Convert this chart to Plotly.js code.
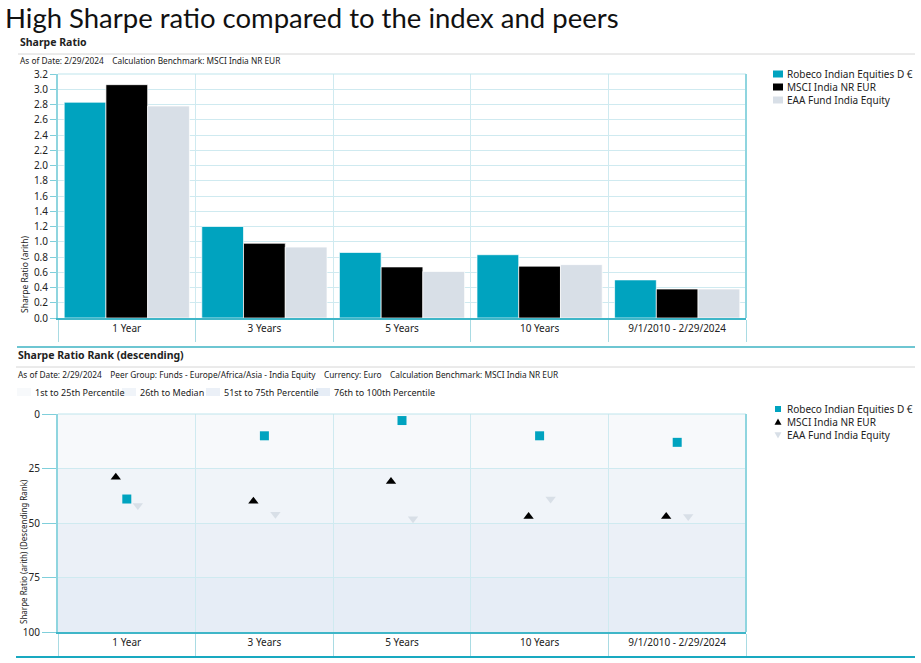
<!DOCTYPE html>
<html>
<head>
<meta charset="utf-8">
<script src="https://cdn.plot.ly/plotly-3.0.1.min.js"></script>
<style>
  html, body { margin: 0; padding: 0; background: #fff; }
  #chart { width: 921px; height: 663px; }
</style>
</head>
<body>
<div id="chart"></div>
<script>
// periods shown on both charts
const periods = ['1 Year', '3 Years', '5 Years', '10 Years', '9/1/2010 - 2/29/2024'];

const seriesNames = ['Robeco Indian Equities D €', 'MSCI India NR EUR', 'EAA Fund India Equity'];

// Sharpe ratio (arith)
const fundSharpe = [2.83, 1.20, 0.86, 0.83, 0.50];
const indexSharpe = [3.06, 0.98, 0.67, 0.68, 0.38];
const peerSharpe = [2.78, 0.93, 0.61, 0.70, 0.38];

// Sharpe ratio rank (descending, percentile)
const fundRank = [39, 10, 3, 10, 13];
const indexRank = [29, 40, 31, 47, 47];
const peerRank = [42, 46, 48, 39, 47];

// percentile bands
const bandLabels = ['1st to 25th Percentile', '26th to Median', '51st to 75th Percentile', '76th to 100th Percentile'];
const bandEdges = [0, 25, 50, 75, 100];
const bandColors = ['#f7f9fb', '#f0f4f9', '#ebf0f7', '#e6edf6'];

const rankTicks = [0, 25, 50, 75, 100];

const TEAL = '#00a3bf';
const BLACK = '#000000';
const GREY = '#d8dfe7';
const GRID = '#cfeaf0';
const FONT = 'Noto Sans, Open Sans, sans-serif';

const W = 921, H = 663;
const px = x => x / W;
const py = y => 1 - y / H;

const barLine = {color: 'rgba(255,255,255,0.7)', width: 1};

const traces = [
  {type: 'bar', x: periods, y: fundSharpe, name: seriesNames[0], marker: {color: TEAL, line: barLine}, xaxis: 'x', yaxis: 'y'},
  {type: 'bar', x: periods, y: indexSharpe, name: seriesNames[1], marker: {color: BLACK, line: barLine}, xaxis: 'x', yaxis: 'y'},
  {type: 'bar', x: periods, y: peerSharpe, name: seriesNames[2], marker: {color: GREY, line: barLine}, xaxis: 'x', yaxis: 'y'},
  // rank markers: order left-to-right is index, fund, peer
  {type: 'scatter', mode: 'markers', x: periods, y: indexRank, name: seriesNames[1],
   marker: {symbol: 'triangle-up', size: 9, color: BLACK}, xaxis: 'x2', yaxis: 'y2'},
  {type: 'scatter', mode: 'markers', x: periods, y: fundRank, name: seriesNames[0],
   marker: {symbol: 'square', size: 9, color: TEAL}, xaxis: 'x2', yaxis: 'y2'},
  {type: 'scatter', mode: 'markers', x: periods, y: peerRank, name: seriesNames[2],
   marker: {symbol: 'triangle-down', size: 9, color: GREY}, xaxis: 'x2', yaxis: 'y2'}
];

const shapes = [];
const annotations = [];

function hline(y, x0, x1, color, width) {
  shapes.push({type: 'line', xref: 'paper', yref: 'paper', x0: px(x0), x1: px(x1), y0: py(y), y1: py(y),
    line: {color: color, width: width}});
}
function rect(x0, y0, x1, y1, color) {
  shapes.push({type: 'rect', xref: 'paper', yref: 'paper', x0: px(x0), x1: px(x1),
    y0: py(y1), y1: py(y0), fillcolor: color, line: {width: 0}});
}
function tri(cx, cy, r, up, color) {
  const a = up ? -1 : 1;
  const p = `M${px(cx - r)},${py(cy - a * r * 0.8)} L${px(cx + r)},${py(cy - a * r * 0.8)} L${px(cx)},${py(cy + a * r)} Z`;
  shapes.push({type: 'path', xref: 'paper', yref: 'paper', path: p, fillcolor: color, line: {width: 0}});
}
function text(str, x, y, size, opts) {
  annotations.push(Object.assign({text: str, xref: 'paper', yref: 'paper', x: px(x), y: py(y),
    xanchor: 'left', yanchor: 'middle', showarrow: false,
    font: {family: FONT, size: size, color: '#222'}}, opts || {}));
}

// headings
text('High Sharpe ratio compared to the index and peers', 4, 0, 27.5,
  {yanchor: 'top', borderpad: 0, font: {family: 'Lato, sans-serif', size: 27.5, color: '#111'}});
text('<b>Sharpe Ratio</b>', 18, 42, 10.5);
hline(54, 18, 915, '#d6d6d6', 1);
text('As of Date: 2/29/2024&nbsp;&nbsp;&nbsp;&nbsp;Calculation Benchmark: MSCI India NR EUR', 18, 60, 8.3);
hline(347, 17, 915, '#6ec6d2', 2);
text('<b>Sharpe Ratio Rank (descending)</b>', 16, 355, 10.5);
hline(367, 16, 915, '#d6d6d6', 1);
text('As of Date: 2/29/2024&nbsp;&nbsp;&nbsp;&nbsp;Peer Group: Funds - Europe/Africa/Asia - India Equity&nbsp;&nbsp;&nbsp;&nbsp;Currency: Euro&nbsp;&nbsp;&nbsp;&nbsp;Calculation Benchmark: MSCI India NR EUR', 16, 374, 8.3);
hline(657, 16, 915, '#19a9c0', 2);

// y axis titles
text('Sharpe Ratio (arith)', 24, 275, 8.5, {xanchor: 'center', textangle: -90});
text('Sharpe Ratio (arith) (Descending Rank)', 23, 552, 8, {xanchor: 'center', textangle: -90});

// percentile key
const keyX = [17, 122, 206, 316];
bandLabels.forEach((lab, i) => {
  rect(keyX[i], 388, keyX[i] + 14, 396, bandColors[i]);
  text(lab, keyX[i] + 16, 392, 9);
});

// legends
const swatchColors = [TEAL, BLACK, GREY];
seriesNames.forEach((name, i) => {
  const y = 74 + i * 13;
  rect(773, y - 3.5, 783, y + 3.5, swatchColors[i]);
  text(name, 785, y, 10);
});
seriesNames.forEach((name, i) => {
  const y = 409 + i * 13;
  if (i === 0) rect(775, y - 3, 781, y + 3, TEAL);
  else tri(778, y, 3.5, i === 1, swatchColors[i]);
  text(name, 785, y, 10);
});

// percentile bands behind rank chart
bandColors.forEach((c, i) => {
  shapes.push({type: 'rect', xref: 'x2 domain', yref: 'y2', x0: 0, x1: 1,
    y0: bandEdges[i], y1: bandEdges[i + 1], fillcolor: c, line: {width: 0}, layer: 'below'});
});

// top and right borders of the plot areas
[['x domain', 'y domain'], ['x2 domain', 'y2 domain']].forEach(([xr, yr]) => {
  shapes.push({type: 'line', xref: xr, yref: yr, x0: 0, x1: 1, y0: 1, y1: 1, line: {color: '#bfe5ec', width: 1}});
  shapes.push({type: 'line', xref: xr, yref: yr, x0: 1, x1: 1, y0: 0, y1: 1, line: {color: '#8fd5df', width: 2}});
});

const catAxis = {
  type: 'category', tickson: 'boundaries', ticks: 'outside', ticklen: 22, tickcolor: '#a9dbe3',
  showgrid: true, gridcolor: GRID, showline: true, linecolor: '#3fb6c8', linewidth: 2,
  tickfont: {family: FONT, size: 10, color: '#222'}, fixedrange: true
};

const layout = {
  width: W, height: H,
  margin: {l: 0, r: 0, t: 0, b: 0},
  paper_bgcolor: '#ffffff', plot_bgcolor: 'rgba(0,0,0,0)',
  font: {family: FONT, color: '#222'},
  showlegend: false,
  barmode: 'group', bargap: 0.09, bargroupgap: 0,
  scattermode: 'group', scattergap: 0.76,
  xaxis: Object.assign({}, catAxis, {domain: [px(58), px(746)], anchor: 'y'}),
  yaxis: {
    domain: [py(318), py(74)], anchor: 'x', range: [0, 3.2], dtick: 0.2, tickformat: '.1f',
    ticks: 'outside', ticklen: 6, tickcolor: '#7fcfdb', gridcolor: GRID, showline: true,
    linecolor: '#8fd5df', linewidth: 2, zeroline: false, automargin: false,
    tickfont: {family: FONT, size: 10, color: '#222'}
  },
  xaxis2: Object.assign({}, catAxis, {domain: [px(58), px(746)], anchor: 'y2'}),
  yaxis2: {
    domain: [py(632), py(414)], anchor: 'x2', range: [100, 0], tickvals: rankTicks,
    ticks: 'outside', ticklen: 14, tickcolor: '#7fcfdb', gridcolor: GRID, showline: true,
    linecolor: '#8fd5df', linewidth: 2, zeroline: false, automargin: false,
    tickfont: {family: FONT, size: 10, color: '#222'}
  },
  shapes: shapes,
  annotations: annotations
};

Plotly.newPlot('chart', traces, layout, {staticPlot: true, displayModeBar: false});
</script>
</body>
</html>
